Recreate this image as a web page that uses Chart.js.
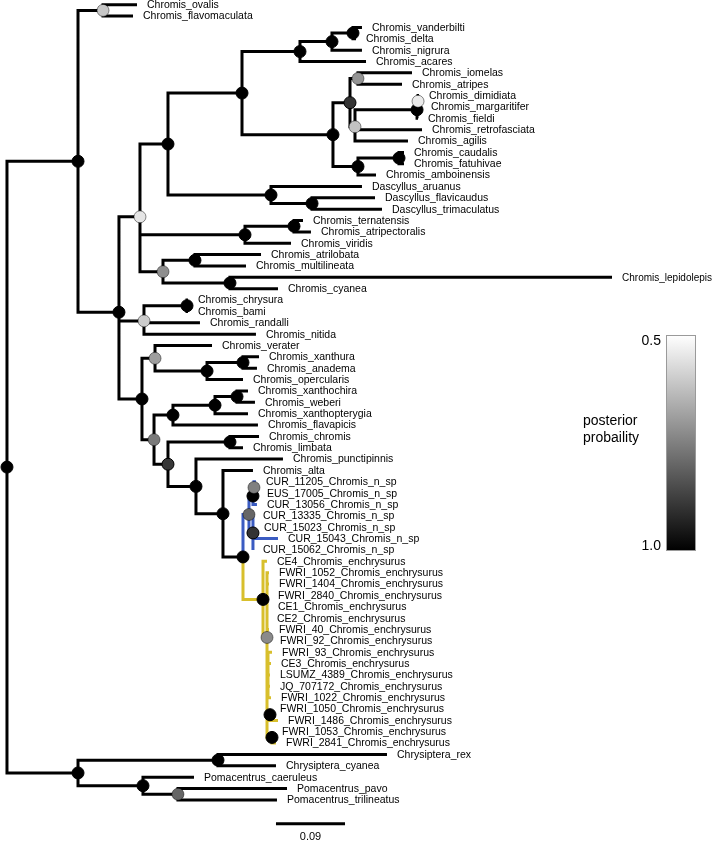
<!DOCTYPE html>
<html>
<head>
<meta charset="utf-8">
<script src="https://cdn.jsdelivr.net/npm/chart.js@4.4.0/dist/chart.umd.min.js"></script>
<style>
  html, body { margin: 0; padding: 0; background: #fff; }
  #wrap { width: 726px; height: 842px; position: relative; }
</style>
</head>
<body>
<div id="wrap"><canvas id="arbol"></canvas></div>
<script>
// tip labels, top to bottom
const tips = [
  'Chromis_ovalis', 'Chromis_flavomaculata', 'Chromis_vanderbilti', 'Chromis_delta', 'Chromis_nigrura',
  'Chromis_acares', 'Chromis_iomelas', 'Chromis_atripes', 'Chromis_dimidiata', 'Chromis_margaritifer',
  'Chromis_fieldi', 'Chromis_retrofasciata', 'Chromis_agilis', 'Chromis_caudalis', 'Chromis_fatuhivae',
  'Chromis_amboinensis', 'Dascyllus_aruanus', 'Dascyllus_flavicaudus', 'Dascyllus_trimaculatus', 'Chromis_ternatensis',
  'Chromis_atripectoralis', 'Chromis_viridis', 'Chromis_atrilobata', 'Chromis_multilineata', 'Chromis_lepidolepis',
  'Chromis_cyanea', 'Chromis_chrysura', 'Chromis_bami', 'Chromis_randalli', 'Chromis_nitida',
  'Chromis_verater', 'Chromis_xanthura', 'Chromis_anadema', 'Chromis_opercularis', 'Chromis_xanthochira',
  'Chromis_weberi', 'Chromis_xanthopterygia', 'Chromis_flavapicis', 'Chromis_chromis', 'Chromis_limbata',
  'Chromis_punctipinnis', 'Chromis_alta', 'CUR_11205_Chromis_n_sp', 'EUS_17005_Chromis_n_sp', 'CUR_13056_Chromis_n_sp',
  'CUR_13335_Chromis_n_sp', 'CUR_15023_Chromis_n_sp', 'CUR_15043_Chromis_n_sp', 'CUR_15062_Chromis_n_sp', 'CE4_Chromis_enchrysurus',
  'FWRI_1052_Chromis_enchrysurus', 'FWRI_1404_Chromis_enchrysurus', 'FWRI_2840_Chromis_enchrysurus', 'CE1_Chromis_enchrysurus', 'CE2_Chromis_enchrysurus',
  'FWRI_40_Chromis_enchrysurus', 'FWRI_92_Chromis_enchrysurus', 'FWRI_93_Chromis_enchrysurus', 'CE3_Chromis_enchrysurus', 'LSUMZ_4389_Chromis_enchrysurus',
  'JQ_707172_Chromis_enchrysurus', 'FWRI_1022_Chromis_enchrysurus', 'FWRI_1050_Chromis_enchrysurus', 'FWRI_1486_Chromis_enchrysurus', 'FWRI_1053_Chromis_enchrysurus',
  'FWRI_2841_Chromis_enchrysurus', 'Chrysiptera_rex', 'Chrysiptera_cyanea', 'Pomacentrus_caeruleus', 'Pomacentrus_pavo',
  'Pomacentrus_trilineatus'
];
// distance from root of each tip (substitutions/site)
const tipDepth = [
  0.1695, 0.1643, 0.4628, 0.4550, 0.4628, 0.4681, 0.5280, 0.5150, 0.5372, 0.5398,
  0.5359, 0.5411, 0.5228, 0.5176, 0.5176, 0.4811, 0.4628, 0.4798, 0.4889, 0.3859,
  0.3963, 0.3703, 0.3312, 0.3116, 0.7888, 0.3533, 0.2360, 0.2360, 0.2516, 0.3246,
  0.2673, 0.3286, 0.3259, 0.3077, 0.3142, 0.3233, 0.3142, 0.3272, 0.3286, 0.3077,
  0.3598, 0.3207, 0.3246, 0.3259, 0.3259, 0.3207, 0.3220, 0.3533, 0.3207, 0.3390,
  0.3416, 0.3416, 0.3403, 0.3403, 0.3390, 0.3416, 0.3429, 0.3455, 0.3442, 0.3429,
  0.3429, 0.3442, 0.3429, 0.3533, 0.3455, 0.3507, 0.4954, 0.3507, 0.2438, 0.3651,
  0.3520
];
// internal node each tip hangs from
const tipParent = [
  2, 2, 9, 9, 8, 7, 12, 12, 15, 15,
  14, 13, 13, 17, 17, 16, 18, 19, 19, 21,
  21, 20, 23, 23, 24, 24, 26, 26, 25, 25,
  28, 30, 30, 29, 34, 34, 33, 32, 36, 36,
  37, 38, 42, 42, 41, 43, 43, 43, 43, 44,
  45, 45, 45, 45, 45, 45, 45, 46, 46, 46,
  46, 46, 47, 47, 48, 48, 50, 50, 51, 52,
  52
];
// internal nodes: parent, depth, posterior probability, clade colour
const nodeParent = [
  -1, 0, 1, 1, 3, 4, 5, 6, 7, 8,
  6, 10, 11, 11, 13, 14, 10, 16, 5, 18,
  4, 20, 4, 22, 22, 3, 25, 3, 27, 28,
  29, 27, 31, 32, 33, 31, 35, 35, 37, 38,
  39, 40, 41, 40, 39, 44, 45, 45, 45, 0,
  49, 49, 51
];
const nodeDepth = [
  0, 0.0926, 0.1252, 0.1460, 0.1734, 0.2099, 0.3064, 0.3820, 0.4237, 0.4511,
  0.4250, 0.4472, 0.4576, 0.4537, 0.5346, 0.5359, 0.4576, 0.5111, 0.3442, 0.3977,
  0.3103, 0.3742, 0.2034, 0.2451, 0.2907, 0.1786, 0.2347, 0.1760, 0.1930, 0.2608,
  0.3077, 0.1917, 0.2164, 0.2712, 0.2999, 0.2099, 0.2907, 0.2464, 0.2816, 0.3077,
  0.3155, 0.3207, 0.3220, 0.3207, 0.3338, 0.3390, 0.3403, 0.3429, 0.3455, 0.0926,
  0.2751, 0.1773, 0.2229
];
const nodePP = [
  1.0, 1.0, 0.61, 1.0, 0.55, 1.0, 1.0, 1.0, 1.0, 1.0,
  1.0, 0.90, 0.71, 0.62, 1.0, 0.54, 1.0, 1.0, 1.0, 1.0,
  1.0, 1.0, 0.72, 1.0, 1.0, 0.60, 1.0, 1.0, 0.69, 1.0,
  1.0, 0.76, 1.0, 1.0, 1.0, 0.89, 1.0, 1.0, 1.0, 1.0,
  0.80, 1.0, 0.75, 0.90, 1.0, 0.73, null, 1.0, 1.0, 1.0,
  1.0, 1.0, 0.80
];
const nodeClade = [
  '', '', '', '', '', '', '', '', '', '',
  '', '', '', '', '', '', '', '', '', '',
  '', '', '', '', '', '', '', '', '', '',
  '', '', '', '', '', '', '', '', '', '',
  'nsp', 'nsp', 'nsp', 'nsp', 'ench', 'ench', 'ench', 'ench', 'ench', '',
  '', '', ''
];
const scaleBar = 0.09;
const ppRange = ['0.5', '1.0'];

const cladeColor = { '': '#000000', nsp: '#3b5cc2', ench: '#d8bf2c' };

// y of every internal node = mean of its children (tips are 1..n)
const nodeKids = nodeParent.map(() => []);
nodeParent.forEach((p, n) => { if (p >= 0) nodeKids[p].push({ node: n }); });
tipParent.forEach((p, i) => nodeKids[p].push({ tip: i }));
const nodeY = [];
function yNodo(n) {
  if (nodeY[n] !== undefined) return nodeY[n];
  const ys = nodeKids[n].map(k => k.node !== undefined ? yNodo(k.node) : k.tip + 1);
  nodeY[n] = ys.reduce((a, b) => a + b, 0) / ys.length;
  return nodeY[n];
}
nodeParent.forEach((_, n) => yNodo(n));

// branches, one path per edge, split with nulls
const trazos = { '': [], nsp: [], ench: [] };
function rama(px, py, cx, cy, clado) {
  trazos[clado].push({ x: px, y: py }, { x: px, y: cy }, { x: cx, y: cy }, { x: px, y: null });
}
nodeParent.forEach((p, n) => {
  if (p >= 0) rama(nodeDepth[p], nodeY[p], nodeDepth[n], nodeY[n], nodeClade[n]);
});
tipParent.forEach((p, i) => rama(nodeDepth[p], nodeY[p], tipDepth[i], i + 1, nodeClade[p]));

function gris(pp) {
  const g = Math.round(255 * Math.min(1, Math.max(0, (1 - pp) / 0.5)));
  return `rgb(${g},${g},${g})`;
}
const puntos = [];
nodePP.forEach((pp, n) => {
  if (pp !== null) puntos.push({ x: nodeDepth[n], y: nodeY[n], pp: pp });
});

const barraY = 73.1, barraX = 0.3507;

const lineaBase = {
  type: 'scatter', showLine: true, pointRadius: 0, pointHoverRadius: 0,
  borderWidth: 3, spanGaps: false, borderCapStyle: 'butt', borderJoinStyle: 'miter'
};

const textos = {
  id: 'textos',
  afterDatasetsDraw(chart) {
    const ctx = chart.ctx, xs = chart.scales.x, ys = chart.scales.y;
    ctx.save();
    ctx.fillStyle = '#000';
    ctx.textBaseline = 'middle';
    ctx.textAlign = 'left';
    tips.forEach((t, i) => {
      ctx.font = (t === 'Chromis_lepidolepis' ? '10px' : '10.5px') + ' "Liberation Sans", Arial, sans-serif';
      ctx.fillText(t, xs.getPixelForValue(tipDepth[i]) + 10, ys.getPixelForValue(i + 1) + 0.5);
    });
    // scale bar label
    ctx.font = '11px "Liberation Sans", Arial, sans-serif';
    ctx.textAlign = 'center';
    const mx = xs.getPixelForValue(barraX + scaleBar / 2);
    ctx.fillText(String(scaleBar), mx, ys.getPixelForValue(barraY) + 13);

    // colour bar for posterior probability
    const bx = 666, by = 335, bw = 30, bh = 216;
    const grad = ctx.createLinearGradient(0, by, 0, by + bh);
    grad.addColorStop(0, gris(0.5));
    grad.addColorStop(1, gris(1.0));
    ctx.fillStyle = grad;
    ctx.fillRect(bx, by, bw, bh);
    ctx.strokeStyle = '#9a9a9a';
    ctx.lineWidth = 1;
    ctx.strokeRect(bx + 0.5, by + 0.5, bw - 1, bh - 1);
    ctx.fillStyle = '#000';
    ctx.font = '14px "Liberation Sans", Arial, sans-serif';
    ctx.textAlign = 'right';
    ctx.fillText(ppRange[0], bx - 5, by + 6);
    ctx.fillText(ppRange[1], bx - 5, by + bh - 5);
    ctx.textAlign = 'left';
    ctx.fillText('posterior', 583, 421);
    ctx.fillText('probaility', 583, 438);
    ctx.restore();
  }
};

new Chart(document.getElementById('arbol'), {
  type: 'scatter',
  data: {
    datasets: [
      {
        data: puntos, order: 0, pointRadius: 6, pointHoverRadius: 6,
        pointBackgroundColor: puntos.map(p => gris(p.pp)),
        pointBorderColor: puntos.map(p => p.pp > 0.85 ? '#000' : 'rgba(0,0,0,0.45)'),
        pointBorderWidth: 1
      },
      Object.assign({ data: trazos.ench, borderColor: cladeColor.ench, order: 1 }, lineaBase),
      Object.assign({ data: trazos.nsp, borderColor: cladeColor.nsp, order: 2 }, lineaBase),
      Object.assign({ data: trazos[''], borderColor: cladeColor[''], order: 3 }, lineaBase),
      Object.assign({ data: [{ x: barraX, y: barraY }, { x: barraX + scaleBar, y: barraY }], borderColor: '#000', order: 4 }, lineaBase)
    ]
  },
  options: {
    responsive: true,
    maintainAspectRatio: false,
    animation: false,
    events: [],
    layout: { padding: 0, autoPadding: false },
    plugins: { legend: { display: false }, tooltip: { enabled: false } },
    scales: {
      x: { type: 'linear', display: false, min: -0.0091, max: 0.9374 },
      y: { type: 'linear', display: false, reverse: true, min: 0.586, max: 74.706 }
    }
  },
  plugins: [textos]
});
</script>
</body>
</html>
